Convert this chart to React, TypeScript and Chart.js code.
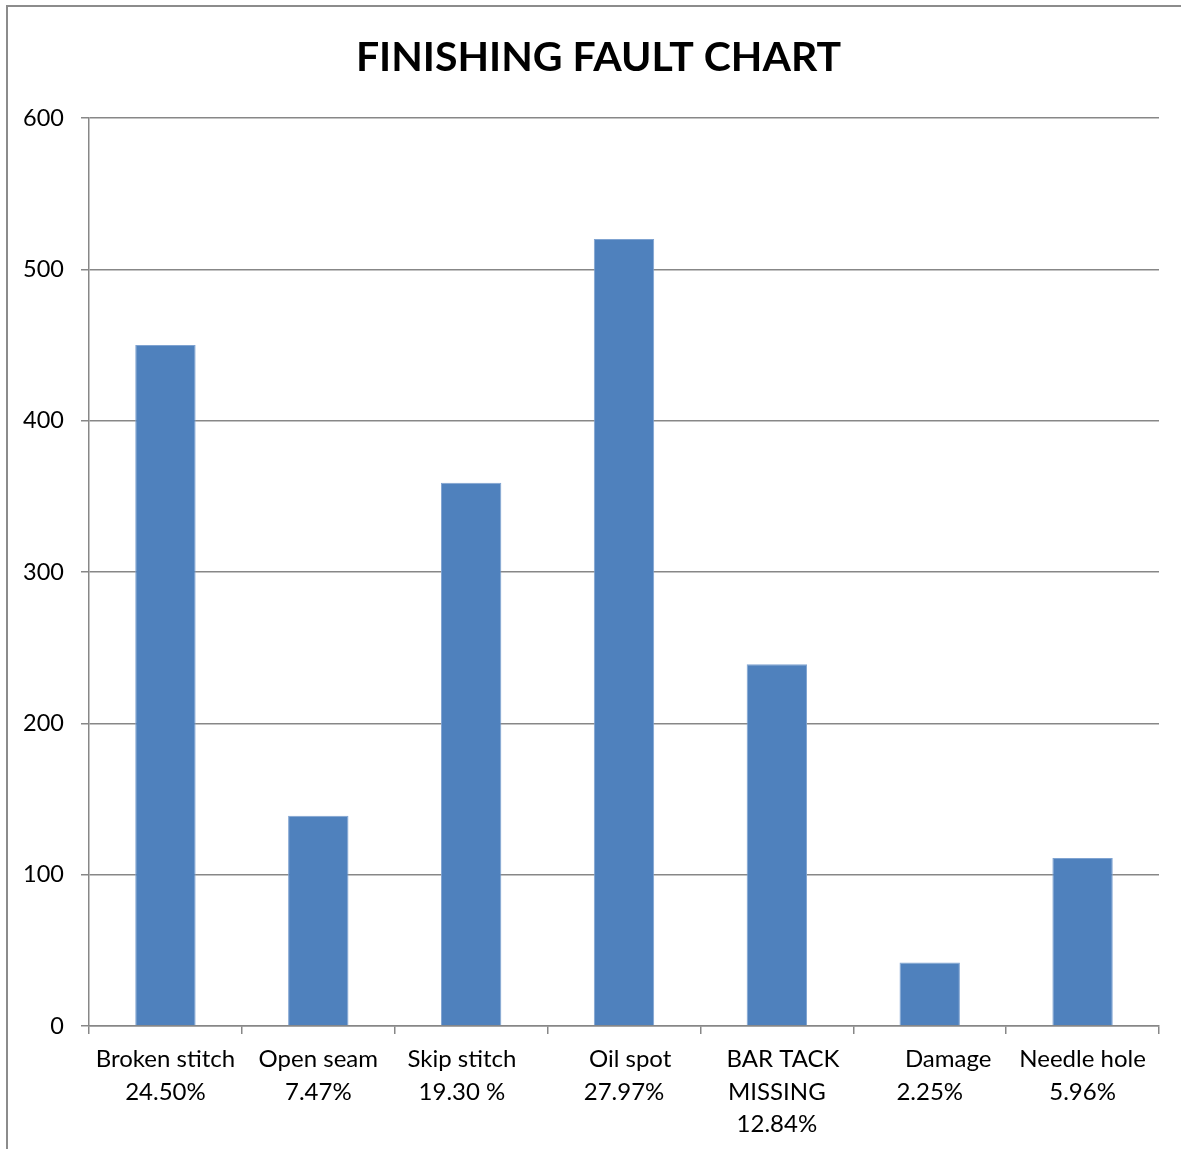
import { useEffect, useRef } from "react";
import { Chart, registerables } from "chart.js";

Chart.register(...registerables);

// Fault categories (each entry is one multi-line axis label)
const faultLabels: string[][] = [
  ["Broken stitch", "24.50%"],
  ["Open seam", "7.47%"],
  ["Skip stitch   ", "19.30 %   "],
  ["  Oil spot", "27.97%"],
  ["  BAR TACK", "MISSING", "12.84%"],
  ["      Damage", "2.25%"],
  ["Needle hole", "5.96%"],
];

// Number of faults found per category
const faultCounts: number[] = [450, 139, 359, 520, 239, 42, 111];

// Value axis range
const yMin = 0;
const yMax = 600;
const yStep = 100;

const chartTitle = "FINISHING FAULT CHART";

const FONT = "Lato, 'Open Sans', sans-serif";
const AXIS_GRAY = "#878787";

// Draws the heading centred across the whole frame rather than the plot area
const headingPlugin = {
  id: "heading",
  afterDraw(chart: any) {
    const ctx = chart.ctx as CanvasRenderingContext2D;
    ctx.save();
    ctx.font = `bold 41px ${FONT}`;
    ctx.fillStyle = "#000000";
    ctx.textAlign = "center";
    ctx.textBaseline = "middle";
    ctx.fillText(chartTitle, 598.5, 57.6);
    ctx.restore();
  },
};

export default function App() {
  const canvasRef = useRef<HTMLCanvasElement | null>(null);

  useEffect(() => {
    const canvas = canvasRef.current;
    if (!canvas) return;
    const chart = new Chart(canvas, {
      type: "bar",
      data: {
        labels: faultLabels,
        datasets: [
          {
            data: faultCounts,
            backgroundColor: "#4F81BD",
            borderColor: "#7FA3D1",
            borderWidth: 1,
            categoryPercentage: 1,
            barPercentage: 0.395,
          },
        ],
      },
      options: {
        animation: false,
        responsive: false,
        maintainAspectRatio: false,
        layout: { padding: { left: 0, right: 22, top: 118, bottom: 0 } },
        plugins: {
          legend: { display: false },
          tooltip: { enabled: false },
          title: { display: false },
        },
        scales: {
          x: {
            offset: true,
            grid: {
              offset: true,
              drawOnChartArea: false,
              drawTicks: true,
              tickLength: 8,
              color: AXIS_GRAY,
              lineWidth: 1.5,
            },
            border: { display: true, color: AXIS_GRAY, width: 1.5 },
            ticks: {
              color: "#000000",
              font: { family: FONT, size: 24, lineHeight: 1.36 },
              padding: 9,
              maxRotation: 0,
              minRotation: 0,
              autoSkip: false,
            },
            afterFit: (scale: any) => {
              scale.height = 123;
            },
          },
          y: {
            min: yMin,
            max: yMax,
            ticks: {
              stepSize: yStep,
              color: "#000000",
              font: { family: FONT, size: 23.5 },
              padding: 17,
            },
            grid: {
              color: AXIS_GRAY,
              lineWidth: 1.5,
              drawTicks: true,
              tickLength: 8,
            },
            border: { display: true, color: AXIS_GRAY, width: 1.5 },
            afterFit: (scale: any) => {
              scale.width = 89;
            },
          },
        },
      },
      plugins: [headingPlugin],
    });
    return () => chart.destroy();
  }, []);

  return (
    <div
      style={{
        position: "fixed",
        left: 0,
        top: 0,
        width: 1181,
        height: 1149,
        overflow: "hidden",
        background: "#ffffff",
      }}
    >
      <div
        style={{
          position: "absolute",
          left: 6,
          top: 5,
          width: 1400,
          height: 1400,
          borderLeft: "2px solid #8c8c8c",
          borderTop: "2px solid #8c8c8c",
        }}
      />
      <canvas
        ref={canvasRef}
        width={1181}
        height={1149}
        style={{ position: "absolute", left: 0, top: 0, width: 1181, height: 1149 }}
      />
    </div>
  );
}
